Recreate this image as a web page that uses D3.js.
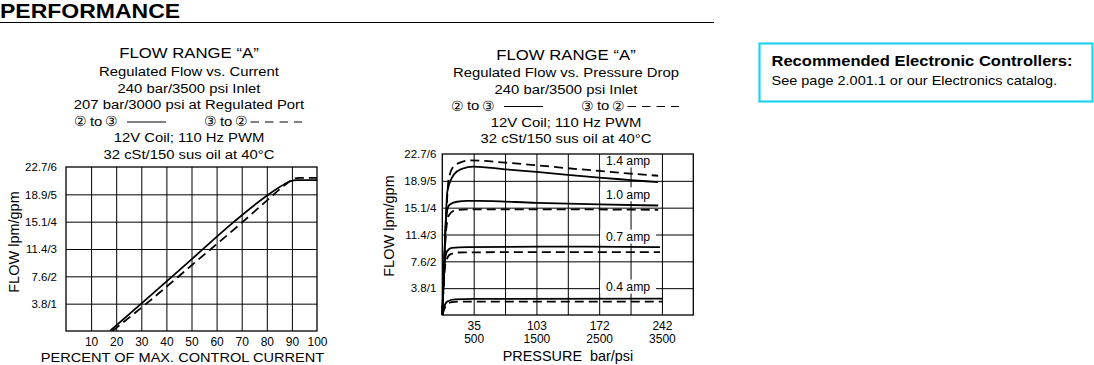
<!DOCTYPE html>
<html><head><meta charset="utf-8">
<script src="https://cdn.jsdelivr.net/npm/d3@7"></script>
<style>
html,body{margin:0;padding:0;background:#fff;}
svg{display:block;}
text{font-family:"Liberation Sans",Arial,Helvetica,sans-serif;fill:#000;}
</style></head><body>
<svg id="c" width="1094" height="365"></svg>
<script>
// ---------- data ----------
const currentTicks = [10,20,30,40,50,60,70,80,90,100];
const flowTicks = [1,2,3,4,5,6];
const flowTickLabels = ["3.8/1","7.6/2","11.4/3","15.1/4","18.9/5","22.7/6"];
const pressureGrid = [500,1000,1500,2000,2500,3000,3500];
const pressureTicksPsi = [500,1500,2500,3500];
const pressureTicksBar = ["35","103","172","242"];

// Flow (gpm) vs percent of max control current
const currentSolid  = [[17.5,0],[30,1.0],[50,2.62],[67,4.0],[80,4.95],[87,5.37],[89.5,5.48],[92,5.52],[100,5.52]];
const currentDashed = [[18.5,0],[32,1.0],[50,2.4],[70.5,4.0],[80,4.77],[88,5.4],[90.5,5.56],[93,5.6],[100,5.6]];

// Flow (gpm) vs pressure drop (psi)
const amp14Solid  = [[0,0],[40,2.5],[80,4.6],[150,5.1],[233,5.35],[388,5.5],[500,5.53],[1000,5.43],[1500,5.33],[2000,5.22],[2500,5.12],[3000,5.03],[3440,4.95]];
const amp14Dashed = [[0,0],[60,3.5],[96,4.97],[175,5.53],[282,5.68],[441,5.76],[1000,5.68],[1500,5.58],[2000,5.47],[2500,5.37],[3000,5.27],[3440,5.19]];
const amp10Solid  = [[0,0],[30,2.0],[60,3.6],[110,4.1],[233,4.22],[400,4.25],[580,4.25],[1500,4.18],[2500,4.12],[3440,4.08]];
const amp10Dashed = [[0,0],[50,2.8],[100,3.7],[200,3.9],[400,3.94],[1500,3.94],[3440,3.92]];
const amp07Solid  = [[0,0],[30,1.6],[70,2.35],[150,2.5],[400,2.53],[2000,2.55],[3470,2.53]];
const amp07Dashed = [[0,0],[50,1.9],[120,2.25],[250,2.33],[1000,2.34],[3470,2.34]];
const amp04Solid  = [[0,0],[30,0.3],[80,0.5],[200,0.58],[500,0.6],[3510,0.61]];
const amp04Dashed = [[0,0],[60,0.35],[150,0.48],[300,0.5],[3510,0.5]];
const ampLabels = ["1.4 amp","1.0 amp","0.7 amp","0.4 amp"];
const ampLabelFlow = [5.76,4.5,2.92,1.06];

const headerLeft = ["FLOW RANGE \u201CA\u201D","Regulated Flow vs. Current","240 bar/3500 psi Inlet","207 bar/3000 psi at Regulated Port","LEGEND","12V Coil; 110 Hz PWM","32 cSt/150 sus oil at 40\u00B0C"];
const headerRight = ["FLOW RANGE \u201CA\u201D","Regulated Flow vs. Pressure Drop","240 bar/3500 psi Inlet","LEGEND","12V Coil; 110 Hz PWM","32 cSt/150 sus oil at 40\u00B0C"];

// ---------- drawing ----------
const svg = d3.select("#c");

function T(parent, x, y, s, o) {
  o = o || {};
  const t = parent.append("text")
    .attr("transform", `translate(${x},${y})` + (o.rot ? ` rotate(${o.rot})` : "") + ` scale(${o.sx||1},1)`)
    .attr("font-size", o.size || 12)
    .attr("text-anchor", o.anchor || "start")
    .attr("font-weight", o.weight || "normal")
    .text(s);
  if (o.pre) t.style("white-space", "pre");
  if (o.family) t.attr("font-family", o.family);
  return t;
}

// Section heading
T(svg, 0, 18, "PERFORMANCE", {size:20, weight:"bold", sx:1.15});
svg.append("line").attr("x1",0).attr("x2",714).attr("y1",22.5).attr("y2",22.5)
  .attr("stroke","#000").attr("stroke-width",1);

// Controllers box
svg.append("rect").attr("x",759.5).attr("y",43.5).attr("width",333).attr("height",58)
  .attr("fill","none").attr("stroke","#22d0ef").attr("stroke-width",2.2);
T(svg, 771.5, 65.5, "Recommended Electronic Controllers:", {size:14.5, weight:"bold", sx:1.14});
T(svg, 771.5, 84.5, "See page 2.001.1 or our Electronics catalog.", {size:13, sx:1.115});

const CIRC = '"DejaVu Sans","Noto Sans CJK JP",sans-serif';
function portPair(g, x, y, a, b) {
  T(g, x + 4.5, y + 0.5, a, {size:14, anchor:"middle", family:CIRC});
  T(g, x + 14, y, "to", {size:13.5, sx:1.1});
  T(g, x + 35, y + 0.5, b, {size:14, anchor:"middle", family:CIRC});
}
function legend(g, ox, y) {
  portPair(g, ox, y, "\u2461", "\u2462");
  g.append("line").attr("x1",ox+51).attr("x2",ox+90).attr("y1",y-3.5).attr("y2",y-3.5)
    .attr("stroke","#000").attr("stroke-width",1);
  portPair(g, ox+130, y, "\u2462", "\u2461");
  g.append("line").attr("x1",ox+174.5).attr("x2",ox+226).attr("y1",y-3.5).attr("y2",y-3.5)
    .attr("stroke","#000").attr("stroke-width",1).attr("stroke-dasharray","8.5,6");
}

function header(lines, cx, baselines) {
  const g = svg.append("g");
  lines.forEach((s, i) => {
    if (s === "LEGEND") legend(g, cx - 113, baselines[i]);
    else T(g, cx, baselines[i], s, {size: i === 0 ? 15.5 : 13.5, anchor:"middle", sx: i === 0 ? 1.08 : 1.1});
  });
}
header(headerLeft, 189, [58,76,92.5,109,125.5,142,158.5]);
header(headerRight, 566, [60,77,93.5,110,126.5,143]);

function frameAndGrid(g, x, y, xGrid, yGrid) {
  const [x0,x1] = x.range(), [y0,y1] = y.range();
  g.append("g").attr("transform",`translate(0,${y0})`)
    .call(d3.axisBottom(x).tickValues(xGrid).tickSize(-(y0-y1)).tickFormat(""))
    .call(a => { a.select(".domain").remove(); a.selectAll("line").attr("stroke","#000").attr("stroke-width",1); });
  g.append("g").attr("transform",`translate(${x0},0)`)
    .call(d3.axisLeft(y).tickValues(yGrid).tickSize(-(x1-x0)).tickFormat(""))
    .call(a => { a.select(".domain").remove(); a.selectAll("line").attr("stroke","#000").attr("stroke-width",1); });
}
function frame(g, x, y) {
  const [x0,x1] = x.range(), [y0,y1] = y.range();
  g.append("rect").attr("x",x0).attr("y",y1).attr("width",x1-x0).attr("height",y0-y1)
    .attr("fill","none").attr("stroke","#000").attr("stroke-width",1.3);
}
function yLabels(g, x, y, pad) {
  g.append("g").attr("transform",`translate(${x.range()[0]},0)`)
    .call(d3.axisLeft(y).tickValues(flowTicks).tickSize(0).tickPadding(pad)
      .tickFormat((d,i) => flowTickLabels[i]))
    .call(a => { a.select(".domain").remove();
      a.selectAll("text").attr("font-size",11.5).attr("font-family",'"Liberation Sans",Arial,sans-serif').attr("fill","#000"); });
}
function curve(g, x, y, data, dashed) {
  g.append("path").datum(data)
    .attr("d", d3.line().x(d => x(d[0])).y(d => y(d[1])).curve(d3.curveMonotoneX))
    .attr("fill","none").attr("stroke","#000").attr("stroke-width",1.8)
    .attr("stroke-dasharray", dashed ? "9,5" : null);
}

// ---------- Left chart ----------
{
  const g = svg.append("g");
  const x = d3.scaleLinear().domain([0,100]).range([66,317]);
  const y = d3.scaleLinear().domain([0,6]).range([331,167]);
  frameAndGrid(g, x, y, currentTicks.slice(0,9), flowTicks.slice(0,5));
  g.append("clipPath").attr("id","clipL").append("rect")
    .attr("x",66).attr("y",160).attr("width",251).attr("height",171);
  const cg = g.append("g").attr("clip-path","url(#clipL)");
  curve(cg, x, y, currentSolid, false);
  curve(cg, x, y, currentDashed, true);
  frame(g, x, y);
  yLabels(g, x, y, 9);
  g.append("g").attr("transform","translate(0,331)")
    .call(d3.axisBottom(x).tickValues(currentTicks).tickSize(0).tickPadding(6))
    .call(a => { a.select(".domain").remove();
      a.selectAll("text").attr("font-size",12).attr("font-family",'"Liberation Sans",Arial,sans-serif').attr("fill","#000"); });
  T(g, 18.5, 242, "FLOW lpm/gpm", {size:14.5, anchor:"middle", rot:-90});
  T(g, 182.5, 362, "PERCENT OF MAX. CONTROL CURRENT", {size:13.5, anchor:"middle", sx:1.08});
}

// ---------- Right chart ----------
{
  const g = svg.append("g");
  const x = d3.scaleLinear().domain([0,4000]).range([442.3,693.3]);
  const y = d3.scaleLinear().domain([0,6]).range([315,154]);
  frameAndGrid(g, x, y, pressureGrid, flowTicks.slice(0,5));
  const series = [[amp14Solid,amp14Dashed],[amp10Solid,amp10Dashed],[amp07Solid,amp07Dashed],[amp04Solid,amp04Dashed]];
  series.forEach(([s,d]) => { curve(g, x, y, s, false); curve(g, x, y, d, true); });
  // amp labels with white backing
  ampLabels.forEach((s,i) => {
    const cx = x(2960), cy = y(ampLabelFlow[i]);
    g.append("rect").attr("x",cx-28).attr("y",cy-7).attr("width",56).attr("height",14).attr("fill","#fff");
    T(g, cx, cy+4.3, s, {size:12, anchor:"middle", sx:1.02});
  });
  frame(g, x, y);
  yLabels(g, x, y, 6);
  g.append("g").attr("transform","translate(0,315)")
    .call(d3.axisBottom(x).tickValues(pressureTicksPsi).tickSize(0).tickPadding(6)
      .tickFormat((d,i) => pressureTicksBar[i]))
    .call(a => { a.select(".domain").remove();
      a.selectAll("text").attr("font-size",12).attr("font-family",'"Liberation Sans",Arial,sans-serif').attr("fill","#000"); });
  g.append("g").attr("transform","translate(0,315)")
    .call(d3.axisBottom(x).tickValues(pressureTicksPsi).tickSize(0).tickPadding(19)
      .tickFormat(d3.format("d")))
    .call(a => { a.select(".domain").remove();
      a.selectAll("text").attr("font-size",12).attr("font-family",'"Liberation Sans",Arial,sans-serif').attr("fill","#000"); });
  T(g, 394, 226, "FLOW lpm/gpm", {size:14.5, anchor:"middle", rot:-90});
  T(g, 568, 361, "PRESSURE  bar/psi", {size:14, anchor:"middle", sx:1.03, pre:true});
}
</script>
</body></html>
